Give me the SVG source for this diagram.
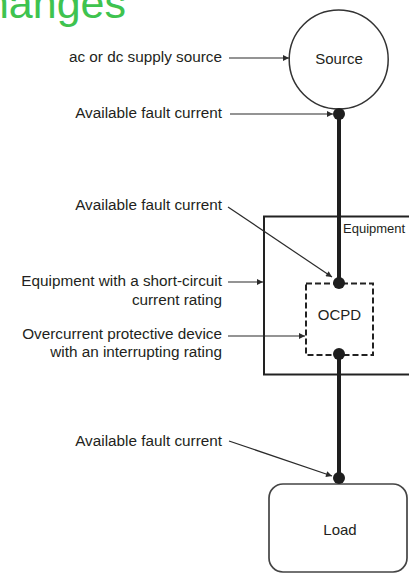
<svg xmlns="http://www.w3.org/2000/svg" width="409" height="573" viewBox="0 0 409 573">
  <defs>
    <marker id="arr" viewBox="0 0 10 10" refX="10" refY="5" markerWidth="9" markerHeight="6" markerUnits="userSpaceOnUse" orient="auto">
      <path d="M0,0 L10,5 L0,10 z" fill="#2b2b2b"/>
    </marker>
  </defs>
  <style>
    text { font-family: "Liberation Sans", Arial, sans-serif; fill: #231f20; }
    .lbl { font-size: 15.3px; text-anchor: end; }
    .node { font-size: 15px; text-anchor: middle; }
    .lead { stroke: #2b2b2b; stroke-width: 1.2; fill: none; marker-end: url(#arr); }
    .wire { stroke: #1e1e1e; stroke-width: 4; fill: none; }
    .dot { fill: #1e1e1e; }
  </style>
  <rect width="409" height="573" fill="#ffffff"/>

  <text x="126" y="18" style="font-size:43px;fill:#3ec34f;text-anchor:end">Changes</text>

  <g id="source">
    <circle cx="338.7" cy="59.5" r="49.5" fill="none" stroke="#333" stroke-width="1.5"/>
    <text class="node" x="339" y="64">Source</text>
  </g>

  <g id="equipment">
    <rect x="264" y="216.5" width="160" height="158" fill="none" stroke="#222" stroke-width="2"/>
    <text x="343" y="233" style="font-size:13px">Equipment</text>
  </g>

  <g id="ocpd">
    <rect x="306" y="283.5" width="67" height="71.5" fill="#fff" stroke="#222" stroke-width="2" stroke-dasharray="6,3"/>
    <text class="node" x="339.5" y="319.5">OCPD</text>
  </g>

  <g id="load">
    <rect x="269" y="484" width="138" height="88" rx="14" fill="none" stroke="#444" stroke-width="1.7"/>
    <text class="node" x="340" y="535">Load</text>
  </g>

  <g id="connectors">
    <line class="wire" x1="339" y1="114" x2="339" y2="283"/>
    <line class="wire" x1="339" y1="354" x2="339" y2="478"/>
    <circle class="dot" cx="339" cy="114" r="6"/>
    <circle class="dot" cx="339" cy="283" r="6"/>
    <circle class="dot" cx="339" cy="354" r="6"/>
    <circle class="dot" cx="339" cy="478" r="6"/>

    <line class="lead" x1="229" y1="58" x2="289" y2="58"/>
    <line class="lead" x1="230" y1="114" x2="333" y2="114"/>
    <line class="lead" x1="228" y1="207" x2="332" y2="277"/>
    <line class="lead" x1="228" y1="282" x2="263" y2="282"/>
    <line class="lead" x1="228" y1="336" x2="305" y2="336"/>
    <line class="lead" x1="229" y1="441" x2="332" y2="476"/>
  </g>

  <g id="labels">
    <text class="lbl" x="222" y="62">ac or dc supply source</text>
    <text class="lbl" x="222" y="118">Available fault current</text>
    <text class="lbl" x="222" y="210">Available fault current</text>
    <text class="lbl" x="222" y="286">Equipment with a short-circuit</text>
    <text class="lbl" x="222" y="304.5">current rating</text>
    <text class="lbl" x="222" y="338.5">Overcurrent protective device</text>
    <text class="lbl" x="222" y="357">with an interrupting rating</text>
    <text class="lbl" x="222" y="446">Available fault current</text>
  </g>
</svg>
